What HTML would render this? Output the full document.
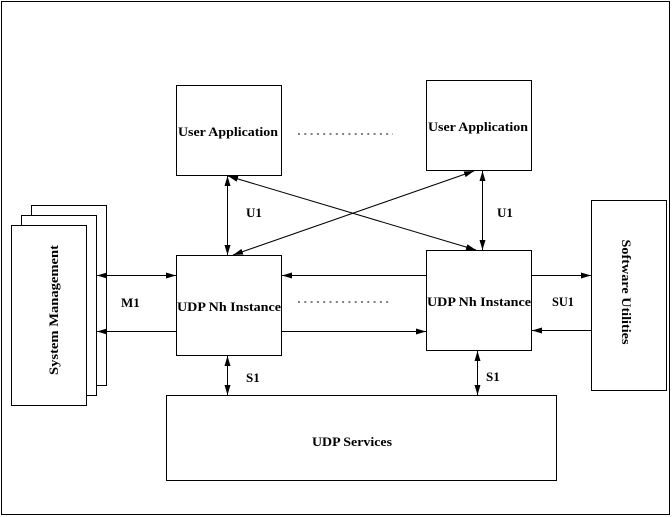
<!DOCTYPE html>
<html><head><meta charset="utf-8"><style>
html,body{margin:0;padding:0;background:#fff;}
svg{display:block;}
text{font-family:"Liberation Serif",serif;font-weight:bold;font-size:13px;fill:#000;}
</style></head><body>
<svg width="672" height="517" viewBox="0 0 672 517" xmlns="http://www.w3.org/2000/svg">
<defs>
<marker id="a" viewBox="0 0 10 6" refX="10" refY="3" markerWidth="10" markerHeight="6" orient="auto-start-reverse" markerUnits="userSpaceOnUse">
<path d="M0,0 L10,3 L0,6 Z" fill="#000"/></marker>
</defs>
<g fill="none" stroke="#000" stroke-width="1">
<rect x="1.5" y="1.5" width="668" height="513"/>
<rect x="31.5" y="205.5" width="75" height="180" fill="#fff"/>
<rect x="21.5" y="215.5" width="75" height="180" fill="#fff"/>
<rect x="11.5" y="225.5" width="75" height="180" fill="#fff"/>
<rect x="176.5" y="85.5" width="105" height="90"/>
<rect x="426.5" y="80.5" width="105" height="90"/>
<rect x="176.5" y="255.5" width="105" height="100"/>
<rect x="426.5" y="250.5" width="105" height="100"/>
<rect x="591.5" y="200.5" width="75" height="190"/>
<rect x="166.5" y="395.5" width="390" height="85"/>
<line x1="97" y1="275.5" x2="176" y2="275.5" marker-start="url(#a)" marker-end="url(#a)"/>
<line x1="176" y1="331.5" x2="97" y2="331.5" marker-end="url(#a)"/>
<line x1="426" y1="275.5" x2="282" y2="275.5" marker-end="url(#a)"/>
<line x1="282" y1="331.5" x2="426" y2="331.5" marker-end="url(#a)"/>
<line x1="532" y1="275.5" x2="591" y2="275.5" marker-end="url(#a)"/>
<line x1="591" y1="330.5" x2="532" y2="330.5" marker-end="url(#a)"/>
<line x1="227.5" y1="176" x2="227.5" y2="255" marker-start="url(#a)" marker-end="url(#a)"/>
<line x1="482.5" y1="171" x2="482.5" y2="250" marker-start="url(#a)" marker-end="url(#a)"/>
<line x1="228" y1="176" x2="476" y2="250" marker-start="url(#a)" marker-end="url(#a)"/>
<line x1="474" y1="171" x2="233" y2="255" marker-start="url(#a)" marker-end="url(#a)"/>
<line x1="227.5" y1="356" x2="227.5" y2="395" marker-start="url(#a)" marker-end="url(#a)"/>
<line x1="477.5" y1="351" x2="477.5" y2="395" marker-start="url(#a)" marker-end="url(#a)"/>
<line x1="298" y1="134" x2="393" y2="134" stroke-dasharray="2,4.3"/>
<line x1="298" y1="302" x2="391" y2="302" stroke-dasharray="2,4.3"/>
</g>
<text x="178" y="136" textLength="100" lengthAdjust="spacingAndGlyphs">User Application</text>
<text x="428" y="131" textLength="100" lengthAdjust="spacingAndGlyphs">User Application</text>
<text x="177" y="311" textLength="104" lengthAdjust="spacingAndGlyphs">UDP Nh Instance</text>
<text x="427" y="306" textLength="104" lengthAdjust="spacingAndGlyphs">UDP Nh Instance</text>
<text x="312" y="446" textLength="80" lengthAdjust="spacingAndGlyphs">UDP Services</text>
<text x="246" y="217">U1</text>
<text x="497" y="217">U1</text>
<text x="121" y="307">M1</text>
<text x="246" y="382">S1</text>
<text x="486" y="381">S1</text>
<text x="552" y="306" textLength="22" lengthAdjust="spacingAndGlyphs">SU1</text>
<text transform="translate(58,310) rotate(-90)" text-anchor="middle" textLength="130" lengthAdjust="spacingAndGlyphs">System Management</text>
<text transform="translate(622,292) rotate(90)" text-anchor="middle" textLength="105" lengthAdjust="spacingAndGlyphs">Software Utilities</text>
</svg>
</body></html>
